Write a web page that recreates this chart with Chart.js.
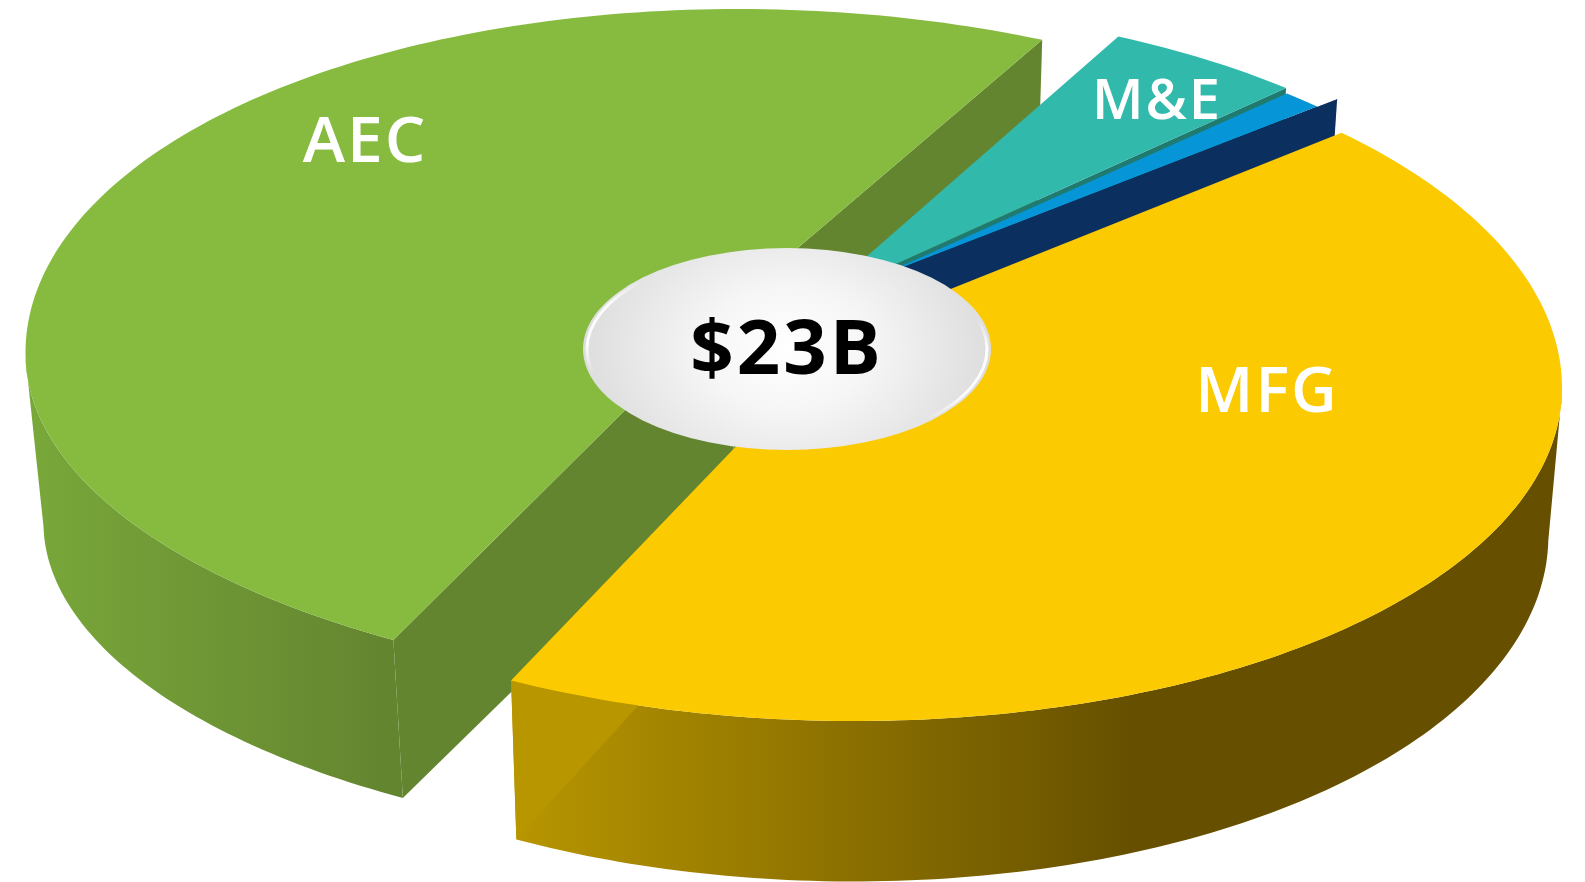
<!DOCTYPE html>
<html>
<head>
<meta charset="utf-8">
<style>html,body{margin:0;padding:0;background:#fff;overflow:hidden}canvas{display:block}</style>
<script src="https://cdn.jsdelivr.net/npm/chart.js@4"></script>
</head>
<body>
<canvas id="c" width="1585" height="882"></canvas>
<script>
// ---- data ----
const categories = ['AEC', 'M&E', 'Other', 'Construction', 'MFG'];
const revenueBillions = [11.7, 1.1, 0.24, 0.06, 9.9];
const sliceColors = ['#86BB40', '#31B9AB', '#0696D7', '#0B2F5E', '#FBCA00'];
const totalLabel = '$23B';

// ---- 3D projection of each exploded slice (style only, no values) ----
const frames = [
  {ax:732,ay:304,cx:768,cy:367,rx:742.5,up:358,low:324,rho:.04,rot:2.9,sp:.9358,f:.977,h:158,hk:-.037,y0:640,
   wall:[[25,'#79A83A'],[385,'#648530']],cut:'#648530'},
  {ax:818,ay:299,cx:820,cy:360,rx:725,up:355,low:336,rho:0,rot:-6.23,sp:.912,f:.98,h:158,hk:0,y0:0,wall:'#1F7A70',cut:'#1F7A70'},
  {ax:875,ay:278,cx:820,cy:365,rx:725,up:355,low:336,rho:0,rot:-7.65,sp:.851,f:.98,h:158,hk:0,y0:0,wall:'#0B2F5E',cut:'#0B2F5E'},
  {ax:875,ay:278,cx:820,cy:348,rx:725,up:355,low:336,rho:0,rot:-6.0,sp:.05,f:.98,h:158,hk:0,y0:0,wall:'#0B2F5E',cut:'#0B2F5E',cutStart:true},
  {ax:848,ay:330,cx:840,cy:381,rx:722,up:352,low:340,rho:.02,rot:-8.45,sp:1.0526,f:.982,h:159,hk:.037,y0:681,
   wall:[[511,'#B89600'],[1130,'#665000']],cut:'#B89600'}
];
const labelStyle = [
  {x:365,y:162,size:64},{x:1157,y:119,size:56},null,null,{x:1267,y:412,size:63}
];
const hub = {x:787,y:349,rx:204,ry:101,textY:374,size:76};
const FONT = '"Open Sans"';

function rimPoint(fr, deg){
  const t = deg*Math.PI/180, u = Math.sin(t), v = -Math.cos(t);
  const w = v*Math.sqrt(1-fr.rho*fr.rho) + fr.rho*u;
  return [fr.cx + fr.rx*u, fr.cy + (w<0 ? fr.up : fr.low)*w];
}
function down(fr, p){
  return [805 + (p[0]-805)*fr.f, p[1] + fr.h + fr.hk*(p[1]-fr.y0)];
}
function poly(ctx, pts, fill){
  ctx.beginPath();
  pts.forEach((p,i)=> i ? ctx.lineTo(p[0],p[1]) : ctx.moveTo(p[0],p[1]));
  ctx.closePath();
  ctx.fillStyle = fill; ctx.fill();
}
function paint(ctx, spec){
  if(typeof spec === 'string') return spec;
  const x0 = spec[0][0], x1 = spec[spec.length-1][0];
  const g = ctx.createLinearGradient(x0,0,x1,0);
  spec.forEach(s=>g.addColorStop((s[0]-x0)/(x1-x0), s[1]));
  return g;
}
const slice3d = {
  id:'slice3d',
  beforeDatasetDraw(chart){
    const ctx = chart.ctx, arcs = chart.getDatasetMeta(0).data;
    ctx.save();
    arcs.forEach((el,i)=>{
      const fr = frames[i], col = chart.data.datasets[0].backgroundColor[i];
      const a0 = (el.startAngle + Math.PI/2)*180/Math.PI, a1 = (el.endAngle + Math.PI/2)*180/Math.PI;
      const t0 = a0 + fr.rot, t1 = t0 + (a1-a0)*fr.sp;
      const rim = [], front = [];
      const n = Math.max(2, Math.ceil(t1-t0));
      for(let j=0;j<=n;j++){
        const t = t0+(t1-t0)*j/n, p = rimPoint(fr,t), m = ((t%360)+360)%360;
        rim.push(p);
        if(m>=90 && m<=270) front.push(p);
      }
      const c = [fr.ax, fr.ay], cb = down(fr,c);
      // outer wall: only the half of the rim that faces the viewer
      if(front.length>1)
        poly(ctx, front.concat(front.map(p=>down(fr,p)).reverse()), paint(ctx, fr.wall));
      // cut walls
      const e = fr.cutStart ? rim[0] : rim[rim.length-1];
      poly(ctx, [c, e, down(fr,e), cb], fr.cut);
      if(i===0) poly(ctx, [c, rim[0], down(fr,rim[0]), cb], fr.cut);
      // top face
      poly(ctx, [c].concat(rim), col);
    });
    // hub
    ctx.save();
    ctx.beginPath(); ctx.ellipse(hub.x,hub.y,hub.rx,hub.ry,0,0,Math.PI*2); ctx.clip();
    ctx.translate(hub.x,hub.y); ctx.scale(1,.75);
    const g = ctx.createRadialGradient(0,0,0,0,0,hub.rx);
    g.addColorStop(0,'#FFFFFF'); g.addColorStop(.4,'#F6F6F6'); g.addColorStop(1,'#DDDDDD');
    ctx.fillStyle=g; ctx.fillRect(-hub.rx,-hub.rx*2,hub.rx*2,hub.rx*4);
    ctx.restore();
    ctx.save();
    const ring = ctx.createConicGradient(0,hub.x,hub.y);
    const W = a=>`rgba(255,255,255,${a})`;
    [[0,.95],[.04,.9],[.075,0],[.48,0],[.505,.95],[.54,.85],[.57,0],[.975,0],[1,.95]].forEach(s=>ring.addColorStop(s[0],W(s[1])));
    ctx.strokeStyle=ring; ctx.lineWidth=3;
    ctx.beginPath(); ctx.ellipse(hub.x,hub.y,hub.rx-4,hub.ry-3,0,0,Math.PI*2); ctx.stroke();
    ctx.restore();
    // labels
    ctx.textAlign='center'; ctx.textBaseline='alphabetic';
    chart.data.labels.forEach((t,i)=>{
      const s = labelStyle[i]; if(!s) return;
      ctx.font = `600 ${s.size}px ${FONT}`; ctx.fillStyle='#FFFFFF';
      ctx.letterSpacing='2px';
      ctx.fillText(t,s.x,s.y);
    });
    ctx.letterSpacing='3px';
    ctx.font = `700 ${hub.size}px ${FONT}`; ctx.fillStyle='#000000';
    ctx.fillText(totalLabel,hub.x,hub.textY);
    ctx.restore();
    return false;
  }
};
new Chart(document.getElementById('c'),{
  type:'pie',
  data:{labels:categories,datasets:[{data:revenueBillions,backgroundColor:sliceColors,borderWidth:0}]},
  options:{responsive:false,animation:false,rotation:207.4,
    plugins:{legend:{display:false},tooltip:{enabled:false}}},
  plugins:[slice3d]
});
</script>
</body>
</html>
